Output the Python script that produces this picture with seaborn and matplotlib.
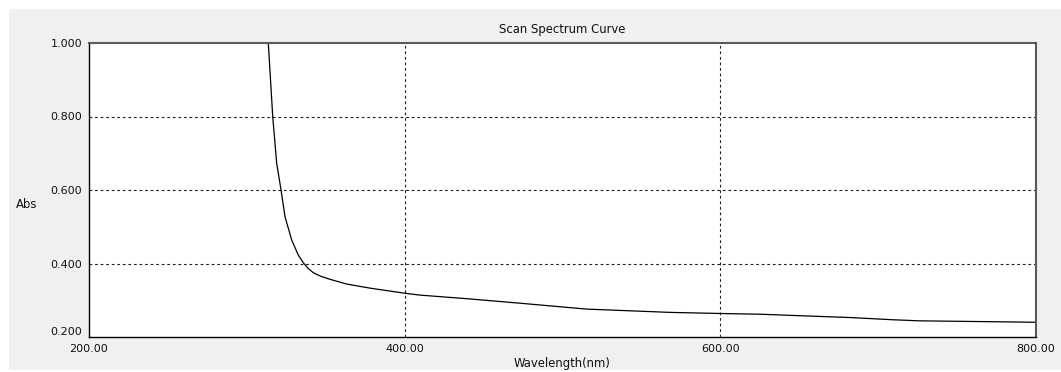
import matplotlib
matplotlib.use("Agg")
import matplotlib.pyplot as plt
import seaborn as sns
import pandas as pd
from matplotlib.patches import Rectangle

wavelength = [313.6, 316.4, 318.9, 321.6, 324.2, 328.4, 332.6, 335.8, 338.8, 342.1,
              347.0, 352.7, 363.3, 378.0, 400.2, 409.7, 440.0, 473.0, 515.0, 568.0,
              600.0, 625.0, 650.0, 682.0, 709.0, 726.0, 784.0, 800.0]
absorbance = [1.000, 0.800, 0.673, 0.602, 0.527, 0.464, 0.423, 0.402, 0.387, 0.375,
              0.365, 0.357, 0.344, 0.333, 0.319, 0.314, 0.304, 0.292, 0.276, 0.267,
              0.264, 0.262, 0.258, 0.253, 0.247, 0.244, 0.241, 0.240]
x_ticks = [200, 400, 600, 800]
y_ticks = [0.2, 0.4, 0.6, 0.8, 1.0]

df = pd.DataFrame({"Wavelength": wavelength, "Abs": absorbance})

sns.set_style("white")
plt.rcParams["font.family"] = ["DejaVu Sans"]

W, H = 1061, 372
fig = plt.figure(figsize=(W / 100, H / 100), dpi=100)
fig.patch.set_facecolor("white")
bg = Rectangle((9 / W, 2 / H), 1 - 9 / W, (370 - 9) / H,
               transform=fig.transFigure, facecolor="#f0f0f0",
               edgecolor="none", zorder=-10)
fig.patches.append(bg)

ax = fig.add_axes([89 / W, (H - 337) / H, (1036 - 89) / W, (337 - 43) / H])
ax.set_zorder(5)
ax.set_facecolor("white")

sns.lineplot(data=df, x="Wavelength", y="Abs", ax=ax, color="black", linewidth=0.9)

ax.set_xlim(200, 800)
ax.set_ylim(0.2, 1.0)
ax.set_xticks(x_ticks)
ax.set_yticks(y_ticks)
ax.set_xticklabels([f"{v:.2f}" for v in x_ticks])
ax.set_yticklabels([f"{v:.3f}" for v in y_ticks])
ax.tick_params(axis="both", length=0, labelsize=8, colors="#111111")
ax.tick_params(axis="x", pad=5)
ax.tick_params(axis="y", pad=5)
ax.yaxis.get_major_ticks()[0].label1.set_verticalalignment("bottom")
ax.set_xlabel("")
ax.set_ylabel("")

for v in [400, 600]:
    ax.axvline(v, color="#202020", linewidth=0.8, linestyle=(0, (2.5, 2.5)), zorder=1)
for v in [0.4, 0.6, 0.8]:
    ax.axhline(v, color="#202020", linewidth=0.8, linestyle=(0, (2.5, 2.5)), zorder=1)

for side in ["left", "bottom"]:
    ax.spines[side].set_color("black")
    ax.spines[side].set_linewidth(1.0)
for side in ["top", "right"]:
    ax.spines[side].set_color("#5a5a5a")
    ax.spines[side].set_linewidth(1.5)

fig.text(562 / W, (H - 29) / H, "Scan Spectrum Curve", ha="center", va="center",
         fontsize=8.4, color="#111111", zorder=6)
fig.text(562 / W, (H - 364) / H, "Wavelength(nm)", ha="center", va="center",
         fontsize=8.4, color="#111111", zorder=6)
fig.text(16 / W, (H - 205) / H, "Abs", ha="left", va="center",
         fontsize=8.4, color="#111111", zorder=6)

fig.savefig("out.png", dpi=100, facecolor=fig.get_facecolor())
